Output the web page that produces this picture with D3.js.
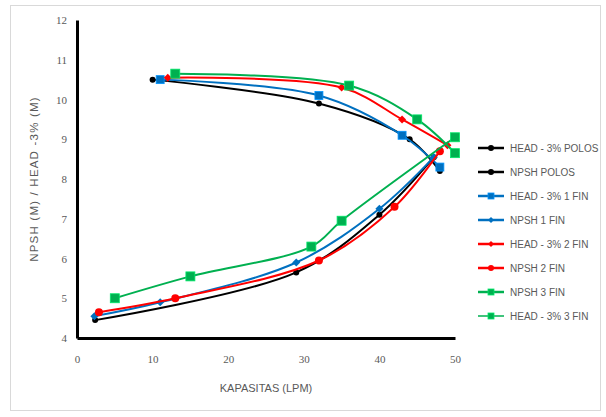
<!DOCTYPE html>
<html>
<head>
<meta charset="utf-8">
<script src="https://cdn.jsdelivr.net/npm/d3@7"></script>
<style>
  body { margin: 0; background: #fff; }
  text { font-family: "Liberation Sans Narrow", "Liberation Sans", Arial, sans-serif; fill: #595959; }
</style>
</head>
<body>
<div id="chart"></div>
<script>
// series names (legend order)
const seriesNames = ["HEAD - 3% POLOS", "NPSH POLOS", "HEAD - 3% 1 FIN", "NPSH 1 FIN",
                     "HEAD - 3% 2 FIN", "NPSH 2 FIN", "NPSH 3 FIN", "HEAD - 3% 3 FIN"];

// values: kapasitas (LPM) and metres
const headPolosX = [10, 32, 44, 48];
const headPolosY = [10.5, 9.9, 9.0, 8.2];
const npshPolosX = [2.4, 29, 40, 47.2];
const npshPolosY = [4.45, 5.65, 7.1, 8.55];
const headFin1X = [11, 32, 43, 48];
const headFin1Y = [10.5, 10.1, 9.1, 8.3];
const npshFin1X = [2.3, 11, 29, 40, 47.2];
const npshFin1Y = [4.55, 4.9, 5.9, 7.25, 8.55];
const headFin2X = [12, 35, 43, 49];
const headFin2Y = [10.55, 10.3, 9.5, 8.85];
const npshFin2X = [2.9, 13, 32, 42, 48];
const npshFin2Y = [4.65, 5.0, 5.95, 7.3, 8.7];
const npshFin3X = [5, 15, 31, 35, 50];
const npshFin3Y = [5.0, 5.55, 6.3, 6.95, 9.05];
const headFin3X = [13, 36, 45, 50];
const headFin3Y = [10.65, 10.35, 9.5, 8.65];

const xTicks = [0, 10, 20, 30, 40, 50];
const yTicks = [4, 5, 6, 7, 8, 9, 10, 11, 12];

const W = 606, H = 417;
const margin = {left: 77, top: 20, right: 151, bottom: 79};

const svg = d3.select("#chart").append("svg")
    .attr("width", W)
    .attr("height", H);

// outer frame
svg.append("rect")
    .attr("x", 10.5).attr("y", 5.5)
    .attr("width", 590).attr("height", 405)
    .attr("fill", "none")
    .attr("stroke", "#d9d9d9");

const x = d3.scaleLinear().domain([0, 50]).range([margin.left, W - margin.right]);
const y = d3.scaleLinear().domain([4, 12]).range([H - margin.bottom, margin.top]);

// axes
const xAxis = svg.append("g")
    .attr("transform", `translate(0,${y(4)})`)
    .call(d3.axisBottom(x).tickValues(xTicks).tickSize(0).tickPadding(17));
const yAxis = svg.append("g")
    .attr("transform", `translate(${x(0)},0)`)
    .call(d3.axisLeft(y).tickValues(yTicks).tickSize(0).tickPadding(10));

[xAxis, yAxis].forEach(g => {
    g.select(".domain").attr("stroke", "#000").attr("stroke-width", 3);
    g.selectAll("text").attr("font-size", 11).attr("fill", "#595959")
        .style("font-family", "'Liberation Serif', serif");
});

// axis titles
svg.append("text")
    .text("KAPASITAS (LPM)")
    .attr("x", (x(0) + x(50)) / 2)
    .attr("y", 392)
    .attr("text-anchor", "middle")
    .attr("font-size", 11);

svg.append("text")
    .text("NPSH (M) / HEAD -3% (M)")
    .attr("transform", `translate(38,${(y(4) + y(12)) / 2}) rotate(-90)`)
    .attr("text-anchor", "middle")
    .attr("font-size", 11.5)
    .attr("letter-spacing", 1.2);

// series definitions (style only)
const series = [
    {xs: headPolosX, ys: headPolosY, color: "#000000", marker: "circle", size: 3},
    {xs: npshPolosX, ys: npshPolosY, color: "#000000", marker: "circle", size: 3},
    {xs: headFin1X, ys: headFin1Y, color: "#0070c0", marker: "square", size: 8},
    {xs: npshFin1X, ys: npshFin1Y, color: "#0070c0", marker: "diamond", size: 4},
    {xs: headFin2X, ys: headFin2Y, color: "#ff0000", marker: "diamond", size: 4},
    {xs: npshFin2X, ys: npshFin2Y, color: "#ff0000", marker: "circle", size: 4},
    {xs: npshFin3X, ys: npshFin3Y, color: "#00b050", marker: "square", size: 9},
    {xs: headFin3X, ys: headFin3Y, color: "#00b050", marker: "square", size: 9}
].map((s, i) => Object.assign(s, {
    name: seriesNames[i],
    points: s.xs.map((v, j) => [v, s.ys[j]])
}));

const line = d3.line()
    .x(d => x(d[0]))
    .y(d => y(d[1]))
    .curve(d3.curveCatmullRom.alpha(0.5));

function drawMarker(g, m, cx, cy, color, size) {
    if (m === "circle") {
        g.append("circle").attr("cx", cx).attr("cy", cy).attr("r", size)
            .attr("fill", color);
    } else if (m === "square") {
        g.append("rect").attr("x", cx - size / 2).attr("y", cy - size / 2)
            .attr("width", size).attr("height", size)
            .attr("fill", color).attr("stroke", d3.color(color).brighter(0.8)).attr("stroke-width", 0.8);
    } else {
        g.append("path")
            .attr("d", `M${cx},${cy - size}L${cx + size},${cy}L${cx},${cy + size}L${cx - size},${cy}Z`)
            .attr("fill", color);
    }
}

const plot = svg.append("g");
series.forEach(s => {
    plot.append("path")
        .attr("d", line(s.points))
        .attr("fill", "none")
        .attr("stroke", s.color)
        .attr("stroke-width", 2);
    s.points.forEach(p => drawMarker(plot, s.marker, x(p[0]), y(p[1]), s.color, s.size));
});

// legend
const legend = svg.append("g").attr("transform", "translate(478,148)");
series.forEach((s, i) => {
    const g = legend.append("g").attr("transform", `translate(0,${i * 24})`);
    g.append("line").attr("x1", 0).attr("x2", 26).attr("y1", 0).attr("y2", 0)
        .attr("stroke", s.color).attr("stroke-width", i === 7 ? 1.5 : 2.5);
    drawMarker(g, s.marker, 13, 0, s.color, s.marker === "square" ? 6 : 3);
    g.append("text").text(s.name)
        .attr("x", 32).attr("y", 0).attr("dy", "0.35em")
        .attr("font-size", 10);
});
</script>
</body>
</html>
